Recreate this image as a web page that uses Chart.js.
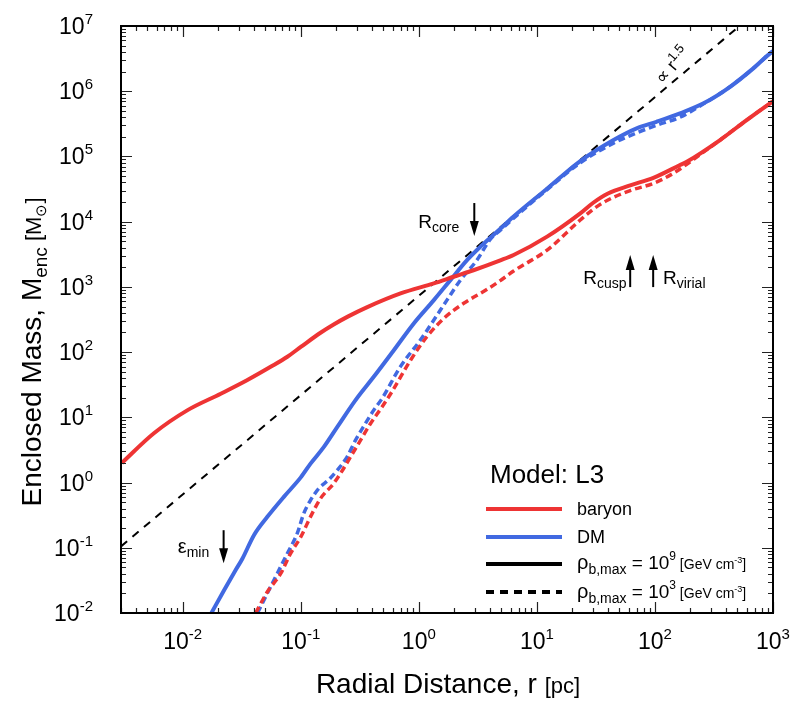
<!DOCTYPE html>
<html>
<head>
<meta charset="utf-8">
<script src="https://cdn.jsdelivr.net/npm/chart.js@4.4.0/dist/chart.umd.min.js"></script>
<style>
  html, body { margin: 0; padding: 0; background: #fff; }
</style>
</head>
<body>
<canvas id="myChart" width="809" height="709"></canvas>
<script>
var FONT = '"Liberation Sans", Arial, Helvetica, sans-serif';
var RED = '#ee3434';
var BLUE = '#4169e1';

// baryon, rho_b,max = 1e9 (solid)  r [pc] / M_enc [Msun]
var baryonR = [0.00305, 0.0057, 0.011, 0.021, 0.035, 0.056, 0.077, 0.1, 0.147, 0.19, 0.25, 0.366, 0.70, 1.34, 1.97, 2.9, 4.9, 6.35, 12.2, 23.3, 30, 40, 61.7, 97, 163, 186, 356, 598, 944, 1000];
var baryonM = [2.0, 5.7, 12.9, 23, 37, 60, 85, 120, 198, 265, 350, 490, 794, 1133, 1430, 1800, 2550, 3080, 5890, 13400, 19500, 27000, 36000, 47000, 73800, 83000, 178600, 361000, 652000, 700000];

// baryon, rho_b,max = 1e3 (dashed)
var baryonLowR = [0.0415, 0.052, 0.0675, 0.082, 0.1, 0.121, 0.147, 0.19, 0.217, 0.264, 0.321, 0.39, 0.489, 0.594, 0.85, 1.17, 1.63, 2.4, 3.8, 4.9, 6.35, 12.2, 23.3, 30, 40, 61.7, 97, 143, 250, 356, 598, 944, 1000];
var baryonLowM = [0.01, 0.021, 0.040, 0.082, 0.147, 0.30, 0.57, 0.97, 1.38, 2.48, 4.47, 8.05, 14.5, 25, 75, 172, 329, 560, 920, 1250, 1750, 3660, 10600, 15500, 21500, 30000, 38700, 55100, 112000, 178600, 361000, 652000, 700000];

// dark matter, rho_b,max = 1e9 (solid)
var dmR = [0.0175, 0.0224, 0.028, 0.032, 0.0401, 0.0521, 0.0719, 0.1, 0.121, 0.157, 0.204, 0.291, 0.415, 0.614, 0.906, 1.34, 1.85, 2.56, 3.4, 4.9, 6.35, 12.2, 23.3, 44.6, 70, 103, 163, 258, 433, 681, 944, 1000];
var dmM = [0.01, 0.0224, 0.0453, 0.068, 0.156, 0.298, 0.604, 1.2, 1.95, 3.52, 7.14, 18.4, 41.8, 107, 275, 627, 1270, 2580, 4300, 7800, 12000, 32000, 85000, 178600, 270000, 340000, 458000, 652000, 1170000, 2240000, 3810000, 4100000];

// dark matter, rho_b,max = 1e3 (dashed)
var dmLowR = [0.043, 0.0632, 0.0769, 0.0933, 0.106, 0.121, 0.142, 0.173, 0.204, 0.247, 0.291, 0.353, 0.415, 0.489, 0.698, 1.03, 1.34, 1.73, 2.25, 3.11, 4.04, 4.9, 6.35, 12.2, 23.3, 44.6, 70, 103, 163, 258, 433, 681, 944, 1000];
var dmLowM = [0.01, 0.0404, 0.0817, 0.166, 0.336, 0.537, 0.81, 1.11, 1.55, 2.48, 4.47, 8.05, 12.9, 19.5, 60, 153, 310, 627, 1270, 2580, 5400, 7400, 11300, 31000, 80000, 160000, 230000, 300000, 400000, 640000, 1170000, 2240000, 3810000, 4100000];

// reference power law, M ~ r^1.5
var slopeR = [0.003, 520];
var slopeM = [0.105, 1e7];

var xDecades = [-2, -1, 0, 1, 2, 3];
var yDecades = [-2, -1, 0, 1, 2, 3, 4, 5, 6, 7];

function pts(rs, ms) {
    return rs.map(function(r, i) { return { x: r, y: ms[i] }; });
}

// draw text made of pieces [text, size, dy]
function rich(ctx, parts, x, y, align) {
    var w = 0;
    parts.forEach(function(p) {
        ctx.font = p[1] + 'px ' + FONT;
        w += ctx.measureText(p[0]).width;
    });
    var cx = align === 'center' ? x - w / 2 : (align === 'right' ? x - w : x);
    ctx.textAlign = 'left';
    ctx.textBaseline = 'alphabetic';
    parts.forEach(function(p) {
        ctx.font = p[1] + 'px ' + FONT;
        ctx.fillText(p[0], cx, y + (p[2] || 0));
        cx += ctx.measureText(p[0]).width;
    });
}

function arrow(ctx, x, yFrom, yTip) {
    var dir = yTip > yFrom ? 1 : -1;
    ctx.strokeStyle = '#000';
    ctx.fillStyle = '#000';
    ctx.lineWidth = 2;
    ctx.beginPath();
    ctx.moveTo(x, yFrom);
    ctx.lineTo(x, yTip - dir * 10);
    ctx.stroke();
    ctx.beginPath();
    ctx.moveTo(x, yTip);
    ctx.lineTo(x - 4.5, yTip - dir * 15);
    ctx.lineTo(x + 4.5, yTip - dir * 15);
    ctx.closePath();
    ctx.fill();
}

var decor = {
    id: 'decor',
    afterDraw: function(chart) {
        var ctx = chart.ctx;
        var a = chart.chartArea;
        var xs = chart.scales.x;
        var ys = chart.scales.y;
        ctx.save();

        // inward ticks on all four sides
        ctx.strokeStyle = '#222';
        ctx.lineWidth = 1.2;
        for (var e = -3; e <= 3; e++) {
            for (var m = 1; m <= 9; m++) {
                var v = m * Math.pow(10, e);
                if (v < xs.min || v > xs.max) continue;
                var px = Math.round(xs.getPixelForValue(v)) + 0.5;
                var len = m === 1 ? 11 : 5;
                ctx.beginPath();
                ctx.moveTo(px, a.bottom); ctx.lineTo(px, a.bottom - len);
                ctx.moveTo(px, a.top); ctx.lineTo(px, a.top + len);
                ctx.stroke();
            }
        }
        for (var e2 = -2; e2 <= 7; e2++) {
            for (var m2 = 1; m2 <= 9; m2++) {
                var v2 = m2 * Math.pow(10, e2);
                if (v2 < ys.min || v2 > ys.max) continue;
                var py = Math.round(ys.getPixelForValue(v2)) + 0.5;
                var len2 = m2 === 1 ? 11 : 5;
                ctx.beginPath();
                ctx.moveTo(a.left, py); ctx.lineTo(a.left + len2, py);
                ctx.moveTo(a.right, py); ctx.lineTo(a.right - len2, py);
                ctx.stroke();
            }
        }

        // frame
        ctx.strokeStyle = '#000';
        ctx.lineWidth = 2;
        ctx.strokeRect(a.left, a.top, a.right - a.left, a.bottom - a.top);

        // tick labels
        ctx.fillStyle = '#000';
        xDecades.forEach(function(d) {
            var px = xs.getPixelForValue(Math.pow(10, d));
            rich(ctx, [['10', 23], [String(d), 15, -10]], px, a.bottom + 36, 'center');
        });
        yDecades.forEach(function(d) {
            var py = ys.getPixelForValue(Math.pow(10, d));
            rich(ctx, [['10', 23], [String(d), 15, -10]], a.left - 28, py + 8, 'right');
        });

        // axis titles
        rich(ctx, [['Radial Distance, r ', 28], ['[pc]', 22]], 448, 693, 'center');
        ctx.save();
        ctx.translate(41, 352);
        ctx.rotate(-Math.PI / 2);
        rich(ctx, [['Enclosed Mass, M', 28], ['enc', 19, 6], [' [M', 22], ['\u2299', 15, 5], [']', 22]], 0, 0, 'center');
        ctx.restore();

        // annotations
        var X = function(v) { return xs.getPixelForValue(v); };
        var Y = function(v) { return ys.getPixelForValue(v); };
        arrow(ctx, X(2.95), Y(19300), Y(6010));
        rich(ctx, [['R', 19], ['core', 14, 4]], X(0.99), Y(7980), 'left');
        arrow(ctx, X(61.7), Y(993), Y(3080));
        arrow(ctx, X(96.6), Y(993), Y(3080));
        rich(ctx, [['R', 19], ['cusp', 14, 4]], X(24.7), Y(1100), 'left');
        rich(ctx, [['R', 19], ['virial', 14, 4]], X(117), Y(1100), 'left');
        arrow(ctx, X(0.0222), Y(0.186), Y(0.058));
        rich(ctx, [['\u03b5', 20], ['min', 14, 4]], X(0.00907), Y(0.0826), 'left');

        ctx.save();
        ctx.translate(X(140), Y(2.5e6));
        ctx.rotate(-50 * Math.PI / 180);
        rich(ctx, [['\u221d r', 18], ['1.5', 13, -7]], 0, 6, 'center');
        ctx.restore();

        // legend
        rich(ctx, [['Model: L3', 26]], 490, 483, 'left');
        var rows = [
            { y: 509, color: RED, dash: [] },
            { y: 537, color: BLUE, dash: [] },
            { y: 564, color: '#000', dash: [] },
            { y: 592, color: '#000', dash: [8, 6] }
        ];
        rows.forEach(function(r) {
            ctx.strokeStyle = r.color;
            ctx.lineWidth = 4;
            ctx.setLineDash(r.dash);
            ctx.beginPath();
            ctx.moveTo(486, r.y); ctx.lineTo(562, r.y);
            ctx.stroke();
        });
        ctx.setLineDash([]);
        ctx.fillStyle = '#000';
        rich(ctx, [['baryon', 18]], 577, 515, 'left');
        rich(ctx, [['DM', 18]], 577, 543, 'left');
        rich(ctx, [['\u03c1', 20], ['b,max', 14, 5], [' = 10', 19], ['9', 12, -9], [' [GeV cm', 14], ['-3', 9, -6], [']', 14]], 577, 569, 'left');
        rich(ctx, [['\u03c1', 20], ['b,max', 14, 5], [' = 10', 19], ['3', 12, -9], [' [GeV cm', 14], ['-3', 9, -6], [']', 14]], 577, 598, 'left');

        ctx.restore();
    }
};

var ctx = document.getElementById('myChart').getContext('2d');

var chart = new Chart(ctx, {
    type: 'scatter',
    data: {
        datasets: [
            {
                label: 'baryon',
                data: pts(baryonR, baryonM),
                borderColor: RED,
                borderWidth: 4,
                order: 1
            },
            {
                label: 'DM',
                data: pts(dmR, dmM),
                borderColor: BLUE,
                borderWidth: 4,
                order: 1
            },
            {
                label: 'baryon low',
                data: pts(baryonLowR, baryonLowM),
                borderColor: RED,
                borderWidth: 3.5,
                borderDash: [7, 4],
                order: 2
            },
            {
                label: 'DM low',
                data: pts(dmLowR, dmLowM),
                borderColor: BLUE,
                borderWidth: 3.5,
                borderDash: [7, 4],
                order: 2
            },
            {
                label: 'r^1.5',
                data: pts(slopeR, slopeM),
                borderColor: '#000',
                borderWidth: 2,
                borderDash: [8, 7],
                order: 3
            }
        ]
    },
    options: {
        responsive: false,
        animation: false,
        showLine: true,
        elements: {
            point: { radius: 0, hoverRadius: 0 },
            line: { cubicInterpolationMode: 'monotone', fill: false }
        },
        layout: { padding: { top: 26, right: 36, left: 0, bottom: 0 } },
        plugins: {
            legend: { display: false },
            tooltip: { enabled: false }
        },
        scales: {
            x: {
                type: 'logarithmic',
                min: 0.003,
                max: 1000,
                grid: { display: false },
                border: { display: false },
                ticks: { display: false },
                afterFit: function(s) { s.height = 96; }
            },
            y: {
                type: 'logarithmic',
                min: 0.01,
                max: 1e7,
                grid: { display: false },
                border: { display: false },
                ticks: { display: false },
                afterFit: function(s) { s.width = 121; }
            }
        }
    },
    plugins: [decor]
});
</script>
</body>
</html>
